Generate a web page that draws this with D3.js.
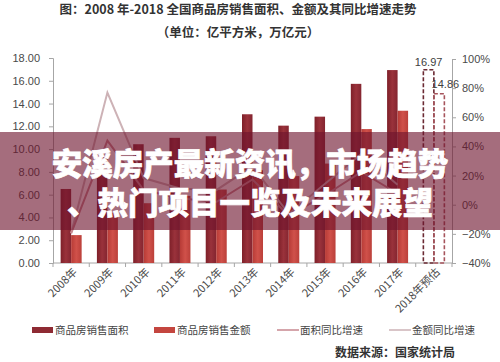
<!DOCTYPE html>
<html>
<head>
<meta charset="utf-8">
<script src="https://cdn.jsdelivr.net/npm/d3@7"></script>
<style>
  body { margin: 0; background: #fff; }
  svg { display: block; font-family: "Noto Sans CJK SC", "Noto Sans", sans-serif; }
</style>
</head>
<body>
<script>
var width = 500,
    height = 362;

// years on the x axis
var years = ["2008年", "2009年", "2010年", "2011年", "2012年", "2013年",
             "2014年", "2015年", "2016年", "2017年", "2018年预估"];
// sales area, 亿平方米
var area = [6.5, 9.37, 10.43, 10.99, 11.13, 13.06, 12.06, 12.85, 15.73, 16.94, 16.97];
// sales amount, 万亿元
var amount = [2.45, 4.40, 5.25, 5.89, 6.45, 8.14, 7.63, 8.73, 11.76, 13.37, 14.86];
// yoy growth (only 2008-2017)
var areaGrowth = [-0.197, 0.44, 0.101, 0.044, 0.018, 0.173, -0.076, 0.065, 0.225, 0.077];
var amountGrowth = [-0.195, 0.77, 0.183, 0.111, 0.10, 0.263, -0.063, 0.144, 0.348, 0.137];
var leftTicks = [0, 2, 4, 6, 8, 10, 12, 14, 16, 18];
var rightTicks = [-0.4, -0.2, 0, 0.2, 0.4, 0.6, 0.8, 1.0];
var legendItems = ["商品房销售面积", "商品房销售金额", "面积同比增速", "金额同比增速"];

var svg = d3.select("body").append("svg")
    .attr("width", width)
    .attr("height", height);

var defs = svg.append("defs");
var g1 = defs.append("linearGradient").attr("id", "gArea");
g1.append("stop").attr("offset", "0%").attr("stop-color", "#7e2029");
g1.append("stop").attr("offset", "50%").attr("stop-color", "#9a323b");
g1.append("stop").attr("offset", "100%").attr("stop-color", "#842530");
var g2 = defs.append("linearGradient").attr("id", "gAmt");
g2.append("stop").attr("offset", "0%").attr("stop-color", "#b73b36");
g2.append("stop").attr("offset", "50%").attr("stop-color", "#d0514a");
g2.append("stop").attr("offset", "100%").attr("stop-color", "#bb403a");

var x = d3.scaleBand().domain(years).range([53, 452]);
var y = d3.scaleLinear().domain([0, 18]).range([263, 58]);
var y2 = d3.scaleLinear().domain([-0.4, 1.0]).range([263, 59]);

// titles
svg.append("text").attr("x", 238).attr("y", 14)
    .attr("text-anchor", "middle").attr("font-size", 12.5).attr("font-weight", "bold")
    .attr("fill", "#333").text("图：2008 年-2018 全国商品房销售面积、金额及其同比增速走势");
svg.append("text").attr("x", 238).attr("y", 37)
    .attr("text-anchor", "middle").attr("font-size", 12.5).attr("font-weight", "bold")
    .attr("fill", "#333").text("（单位：亿平方米，万亿元）");

// axes
var leftAxis = svg.append("g").attr("transform", "translate(53,0)")
    .call(d3.axisLeft(y).tickValues(leftTicks).tickFormat(d3.format(".2f")).tickSize(4).tickPadding(9));
var rightAxis = svg.append("g").attr("transform", "translate(452,0)")
    .call(d3.axisRight(y2).tickValues(rightTicks).tickFormat(d3.format(".0%")).tickSize(4).tickPadding(6));
[leftAxis, rightAxis].forEach(function(a) {
  a.select(".domain").attr("stroke", "#a6a6a6");
  a.selectAll(".tick line").attr("stroke", "#a6a6a6");
  a.selectAll(".tick text").attr("font-size", 11).attr("fill", "#4a4a4a")
    .attr("font-family", "'Liberation Sans', sans-serif");
});

var bottom = svg.append("g");
bottom.append("line").attr("x1", 53).attr("x2", 452).attr("y1", 263).attr("y2", 263)
    .attr("stroke", "#a6a6a6");
bottom.selectAll(".tk").data(years.concat(["end"])).enter().append("line")
    .attr("x1", function(d, i) { return 53 + i * x.bandwidth(); })
    .attr("x2", function(d, i) { return 53 + i * x.bandwidth(); })
    .attr("y1", 263).attr("y2", 267).attr("stroke", "#a6a6a6");
bottom.selectAll(".lbl").data(years).enter().append("text")
    .attr("transform", function(d) {
      return "translate(" + (x(d) + x.bandwidth() / 2 + 4) + ",270) rotate(-45)";
    })
    .attr("text-anchor", "end").attr("dy", "0.35em")
    .attr("font-size", 11).attr("fill", "#4a4a4a").text(function(d) { return d; });

// bars
var bw = 10.5;
var actual = years.slice(0, 10);
svg.selectAll(".ba").data(actual).enter().append("rect")
    .attr("x", function(d) { return x(d) + x.bandwidth() / 2 - bw; })
    .attr("y", function(d, i) { return y(area[i]); })
    .attr("width", bw)
    .attr("height", function(d, i) { return y(0) - y(area[i]); })
    .attr("fill", "url(#gArea)");
svg.selectAll(".bm").data(actual).enter().append("rect")
    .attr("x", function(d) { return x(d) + x.bandwidth() / 2; })
    .attr("y", function(d, i) { return y(amount[i]); })
    .attr("width", bw)
    .attr("height", function(d, i) { return y(0) - y(amount[i]); })
    .attr("fill", "url(#gAmt)");

// 2018 forecast, dashed outlines
var fy = years[10];
var cx = x(fy) + x.bandwidth() / 2;
svg.append("rect").attr("x", cx - bw).attr("y", y(area[10])).attr("width", bw)
    .attr("height", y(0) - y(area[10])).attr("fill", "none")
    .attr("stroke", "#6b2a33").attr("stroke-width", 1.6).attr("stroke-dasharray", "4,2");
svg.append("rect").attr("x", cx).attr("y", y(amount[10])).attr("width", bw)
    .attr("height", y(0) - y(amount[10])).attr("fill", "none")
    .attr("stroke", "#a6545c").attr("stroke-width", 1.6).attr("stroke-dasharray", "4,2");
svg.append("text").attr("x", cx - bw / 2).attr("y", y(area[10]) - 4)
    .attr("text-anchor", "middle").attr("font-size", 11).attr("fill", "#404040")
    .attr("font-family", "'Liberation Sans', sans-serif").text(area[10].toFixed(2));
svg.append("text").attr("x", cx + bw + 1).attr("y", y(amount[10]) - 6)
    .attr("text-anchor", "middle").attr("font-size", 11).attr("fill", "#404040")
    .attr("font-family", "'Liberation Sans', sans-serif").text(amount[10].toFixed(2));

// growth lines
var line = d3.line()
    .x(function(d, i) { return x(years[i]) + x.bandwidth() / 2; })
    .y(function(d) { return y2(d); });
svg.append("path").datum(amountGrowth).attr("d", line)
    .attr("fill", "none").attr("stroke", "#cdb2b6").attr("stroke-width", 2);
svg.append("path").datum(areaGrowth).attr("d", line)
    .attr("fill", "none").attr("stroke", "#c7878f").attr("stroke-width", 2);

// legend
var lx = [32, 154, 277, 389];
var lg = svg.selectAll(".lg").data(legendItems).enter().append("g")
    .attr("transform", function(d, i) { return "translate(" + lx[i] + ",330)"; });
lg.each(function(d, i) {
  var s = d3.select(this);
  if (i < 2) {
    s.append("rect").attr("x", 0).attr("y", -3).attr("width", 21).attr("height", 6)
      .attr("fill", i == 0 ? "#8e2a33" : "#c4463f");
  } else {
    s.append("line").attr("x1", 0).attr("x2", 22).attr("y1", 0).attr("y2", 0)
      .attr("stroke", i == 2 ? "#c7878f" : "#cdb2b6").attr("stroke-width", 1.5);
  }
  s.append("text").attr("x", 23).attr("dy", "0.35em").attr("font-size", 10.5)
    .attr("fill", "#444").text(d);
});

svg.append("text").attr("x", 455).attr("y", 357).attr("text-anchor", "end")
    .attr("font-size", 12).attr("font-weight", "bold").attr("fill", "#333")
    .text("数据来源：国家统计局");

// banner overlay
svg.append("rect").attr("x", 0).attr("y", 132).attr("width", width).attr("height", 98)
    .attr("fill", "rgb(110,20,45)").attr("fill-opacity", 0.62);
svg.append("text").attr("x", 250).attr("y", 175).attr("text-anchor", "middle")
    .attr("font-size", 30.5).attr("font-weight", 900).attr("fill", "#fff")
    .attr("stroke", "#fff").attr("stroke-width", 0.7)
    .text("安溪房产最新资讯，市场趋势");
svg.append("text").attr("x", 250).attr("y", 214).attr("text-anchor", "middle")
    .attr("font-size", 30.5).attr("font-weight", 900).attr("fill", "#fff")
    .attr("stroke", "#fff").attr("stroke-width", 0.7)
    .text("、热门项目一览及未来展望");
</script>
</body>
</html>
